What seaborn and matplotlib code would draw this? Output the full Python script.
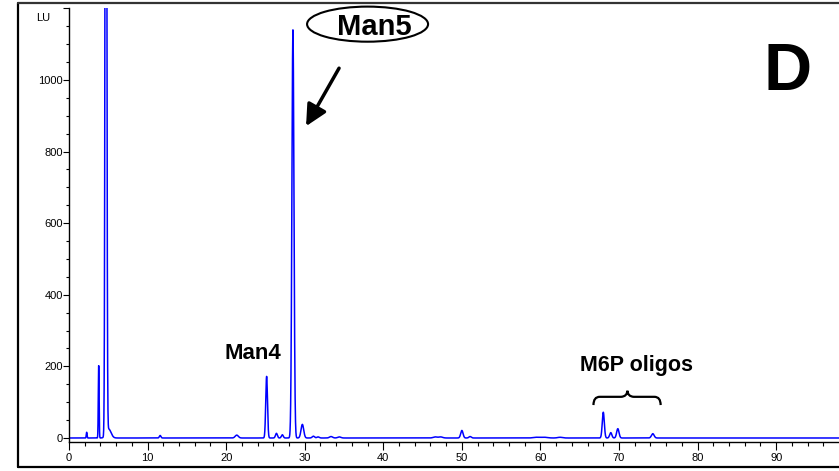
import numpy as np
import pandas as pd
import seaborn as sns
import matplotlib.pyplot as plt
from matplotlib.patches import Ellipse, PathPatch
from matplotlib.path import Path
from matplotlib.lines import Line2D

# ── Data: peak table (retention time, height in LU, width) ──
PEAK_RT     = [2.25, 3.78, 4.70, 5.05, 11.6, 21.35, 25.15, 26.4, 27.15, 28.5, 29.7,
               31.1, 31.7, 33.35, 34.4, 46.6, 47.3, 50.0, 51.05, 59.5, 60.5, 62.5,
               68.0, 68.95, 69.85, 74.3]
PEAK_HEIGHT = [16, 202, 3500, 25, 7, 8, 172, 13, 9, 1140, 38,
               5, 3, 4, 3, 3, 3, 21, 4, 2, 2, 2,
               72, 15, 26, 12]
PEAK_SIGMA  = [0.05, 0.05, 0.09, 0.3, 0.1, 0.2, 0.11, 0.12, 0.12, 0.13, 0.17,
               0.15, 0.15, 0.2, 0.2, 0.25, 0.25, 0.15, 0.15, 0.4, 0.4, 0.3,
               0.13, 0.14, 0.15, 0.17]

X_TICKS = [0, 10, 20, 30, 40, 50, 60, 70, 80, 90]
Y_TICKS = [0, 200, 400, 600, 800, 1000, 1200]
Y_LABELS = ['0', '200', '400', '600', '800', '1000', '']

# ── Config ──────────────────────────────────────────────────────────────────
W, H = 839, 471
X_MAX = 98.0
Y_MIN, Y_MAX = -11.2, 1200
BLUE = '#0000ff'

# build the trace from the peak table
t = np.arange(0, X_MAX + 0.005, 0.01)
signal = np.zeros_like(t)
for rt, h, s in zip(PEAK_RT, PEAK_HEIGHT, PEAK_SIGMA):
    signal += h * np.exp(-0.5 * ((t - rt) / s) ** 2)
df = pd.DataFrame({'time': t, 'LU': signal})

sns.set_style('ticks')
plt.rcParams['font.family'] = ['Liberation Sans', 'DejaVu Sans']
plt.rcParams.update({'text.color': 'black', 'xtick.color': 'black',
                     'ytick.color': 'black', 'axes.edgecolor': 'black'})

fig = plt.figure(figsize=(W / 100, H / 100), dpi=100)
ax = fig.add_axes([69 / W, (H - 442) / H, (W - 69) / W, (442 - 8.4) / H])

sns.lineplot(data=df, x='time', y='LU', ax=ax, color=BLUE, lw=1.1, estimator=None)

ax.set_xlim(0, X_MAX)
ax.set_ylim(Y_MIN, Y_MAX)
ax.set_xlabel(''); ax.set_ylabel('')
sns.despine(ax=ax)
for sp in ['left', 'bottom']:
    ax.spines[sp].set_linewidth(1.0)

ax.set_xticks(X_TICKS)
ax.set_xticks(np.arange(0, X_MAX, 2), minor=True)
ax.set_yticks(Y_TICKS)
ax.set_yticklabels(Y_LABELS)
ax.set_yticks(np.arange(0, 1201, 50), minor=True)
ax.tick_params(axis='x', which='major', length=6, width=0.8, pad=2, labelsize=8)
ax.tick_params(axis='x', which='minor', length=3, width=0.8)
ax.tick_params(axis='y', which='major', length=4.5, width=0.8, pad=0, labelsize=8)
ax.tick_params(axis='y', which='minor', length=2.2, width=0.8)

ax.text(-2.4, 1172, 'LU', ha='right', va='center', fontsize=8, clip_on=False)

# ── Annotations ──────────────────────────────────────────────────────────────
ax.text(38.8, 1126, 'Man5', ha='center', va='baseline', fontsize=21,
        fontweight='bold', clip_on=False)
ax.add_patch(Ellipse((38.0, 1156), 15.4, 98, fill=False, lw=1.5,
                     edgecolor='black', clip_on=False))
ax.annotate('', xy=(30.17, 871), xytext=(34.37, 1033),
            arrowprops=dict(arrowstyle='-|>', lw=2.5, color='black',
                            mutation_scale=32, shrinkA=0, shrinkB=0))
ax.text(23.4, 221, 'Man4', ha='center', va='baseline', fontsize=16, fontweight='bold')
ax.text(72.2, 187, 'M6P oligos', ha='center', va='baseline', fontsize=15.5,
        fontweight='bold')
ax.text(91.4, 972, 'D', ha='center', va='baseline', fontsize=48, fontweight='bold')

# curly brace over the M6P peaks
xl, xr, xc = 66.75, 75.3, 71.07
yb, ym, yt = 92, 115, 132
verts = [(xl, yb), (xl, ym), (xl + 0.8, ym),
         (xc - 0.8, ym),
         (xc - 0.05, ym + 1), (xc, yt),
         (xc + 0.05, ym + 1), (xc + 0.8, ym),
         (xr - 0.8, ym),
         (xr, ym), (xr, yb)]
codes = [Path.MOVETO, Path.CURVE3, Path.CURVE3,
         Path.LINETO,
         Path.CURVE3, Path.CURVE3,
         Path.CURVE3, Path.CURVE3,
         Path.LINETO,
         Path.CURVE3, Path.CURVE3]
ax.add_patch(PathPatch(Path(verts, codes), fill=False, lw=1.6, edgecolor='black'))

# outer frame (left, top, bottom)
fx = 18 / W
ft, fb = (H - 3) / H, (H - 467) / H
fig.add_artist(Line2D([fx, fx], [fb, ft], color='black', lw=1.6))
fig.add_artist(Line2D([fx, 1], [ft, ft], color='#333333', lw=1.6))
fig.add_artist(Line2D([fx, 1], [fb, fb], color='black', lw=1.6))

fig.savefig('out.png', dpi=100)
